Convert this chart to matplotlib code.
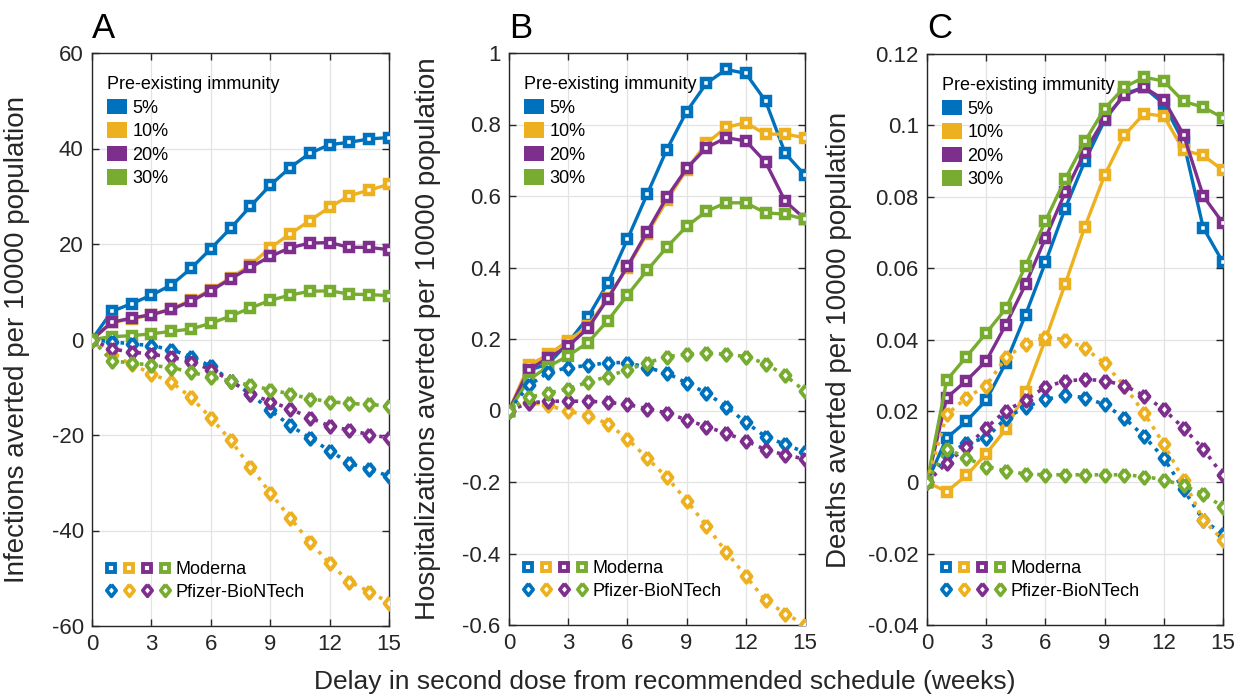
import numpy as np
import matplotlib as mpl
mpl.use('Agg')
import matplotlib.pyplot as plt
from matplotlib.lines import Line2D
from matplotlib.patches import Patch
from matplotlib.legend_handler import HandlerTuple
from matplotlib.ticker import FormatStrFormatter

plt.rc('font', family='Liberation Sans', size=14)
plt.rc('axes', unicode_minus=False)

########################## data ##########################
weeks = np.arange(0, 16)
immunity = ['5%', '10%', '20%', '30%']
colors = ['#0072BD', '#EDB120', '#7E2F8E', '#77AC30']

# A: infections averted per 10000
inf_moderna = [
    [0, 5.9, 7.5, 9.3, 11.4, 14.9, 19.0, 23.3, 27.9, 32.3, 36.0, 39.0, 40.8, 41.3, 42.0, 42.3],
    [0, 3.6, 4.3, 5.2, 6.4, 8.2, 10.4, 12.9, 15.6, 19.2, 22.1, 24.9, 27.7, 30.1, 31.3, 32.5],
    [0, 3.6, 4.5, 5.2, 6.3, 8.0, 10.2, 12.7, 15.1, 17.4, 19.2, 20.2, 20.3, 19.3, 19.3, 18.8],
    [0, 0.6, 0.8, 1.2, 1.7, 2.2, 3.4, 4.9, 6.6, 8.2, 9.3, 10.1, 10.2, 9.5, 9.4, 9.2],
]
inf_pfizer = [
    [0, -0.5, -0.9, -1.3, -2.1, -3.6, -5.6, -8.6, -11.4, -14.8, -18.0, -20.6, -23.3, -25.9, -27.2, -28.6],
    [0, -3.3, -5.1, -7.2, -8.9, -12.1, -16.4, -21.1, -26.7, -32.1, -37.3, -42.4, -46.9, -50.7, -52.8, -55.1],
    [0, -2.0, -2.6, -3.1, -3.7, -4.7, -6.3, -8.6, -11.4, -13.0, -14.5, -16.4, -18.1, -19.0, -19.9, -20.6],
    [0, -4.5, -4.9, -5.4, -5.9, -6.8, -7.9, -8.7, -9.6, -10.5, -11.4, -12.4, -13.0, -13.4, -13.6, -13.9],
]

# B: hospitalizations averted per 10000
hosp_moderna = [
    [0, 0.112, 0.131, 0.19, 0.261, 0.356, 0.479, 0.605, 0.730, 0.836, 0.915, 0.954, 0.943, 0.866, 0.719, 0.658],
    [0, 0.126, 0.157, 0.195, 0.235, 0.315, 0.400, 0.494, 0.588, 0.674, 0.747, 0.792, 0.805, 0.773, 0.773, 0.763],
    [0, 0.114, 0.148, 0.180, 0.230, 0.312, 0.403, 0.500, 0.597, 0.677, 0.735, 0.763, 0.754, 0.695, 0.585, 0.536],
    [0, 0.086, 0.123, 0.153, 0.190, 0.251, 0.323, 0.392, 0.457, 0.515, 0.557, 0.581, 0.581, 0.553, 0.549, 0.535],
]
hosp_pfizer = [
    [0, 0.07, 0.107, 0.120, 0.126, 0.134, 0.134, 0.120, 0.105, 0.077, 0.049, 0.011, -0.033, -0.073, -0.095, -0.117],
    [0, 0.023, 0.014, -0.002, -0.014, -0.037, -0.079, -0.133, -0.187, -0.252, -0.322, -0.395, -0.463, -0.531, -0.568, -0.600],
    [0, 0.021, 0.026, 0.026, 0.026, 0.023, 0.017, 0.005, -0.007, -0.026, -0.045, -0.064, -0.084, -0.110, -0.124, -0.136],
    [0, 0.037, 0.049, 0.061, 0.079, 0.095, 0.114, 0.133, 0.151, 0.157, 0.161, 0.157, 0.151, 0.131, 0.098, 0.054],
]

# C: deaths averted per 10000
death_moderna = [
    [0, 0.0124, 0.0171, 0.0230, 0.0335, 0.0470, 0.0616, 0.0767, 0.0900, 0.1014, 0.1088, 0.1107, 0.1060, 0.0953, 0.0713, 0.0616],
    [0, -0.0026, 0.0019, 0.0080, 0.0149, 0.0253, 0.0400, 0.0555, 0.0716, 0.0860, 0.0972, 0.1033, 0.1026, 0.0930, 0.0916, 0.0874],
    [0, 0.0237, 0.0285, 0.0340, 0.0442, 0.0555, 0.0684, 0.0812, 0.0926, 0.1019, 0.1084, 0.1107, 0.1072, 0.0974, 0.0802, 0.0726],
    [0, 0.0286, 0.0352, 0.0418, 0.0487, 0.0607, 0.0732, 0.0849, 0.0955, 0.1047, 0.1107, 0.1135, 0.1124, 0.1067, 0.1051, 0.1021],
]
death_pfizer = [
    [0, 0.0077, 0.0110, 0.0124, 0.0180, 0.0211, 0.0232, 0.0244, 0.0237, 0.0218, 0.0180, 0.0129, 0.0068, -0.0020, -0.0106, -0.0146],
    [0, 0.0190, 0.0237, 0.0270, 0.0350, 0.0387, 0.0406, 0.0400, 0.0376, 0.0333, 0.0270, 0.0194, 0.0107, 0.0007, -0.0106, -0.0162],
    [0, 0.0054, 0.0099, 0.0152, 0.0201, 0.0230, 0.0267, 0.0284, 0.0288, 0.0285, 0.0271, 0.0243, 0.0204, 0.0152, 0.0093, 0.0019],
    [0, 0.0094, 0.0068, 0.0044, 0.0032, 0.0023, 0.0021, 0.0021, 0.0021, 0.0021, 0.0021, 0.0016, 0.0007, -0.0009, -0.0033, -0.0069],
]

panels = [
    ('A', inf_moderna, inf_pfizer, 'Infections averted per 10000 population',
     (-60, 60), np.arange(-60, 61, 20), -0.21),
    ('B', hosp_moderna, hosp_pfizer, 'Hospitalizations averted per 10000 population',
     (-0.6, 1.0), np.round(np.arange(-0.6, 1.01, 0.2), 2), -0.23),
    ('C', death_moderna, death_pfizer, 'Deaths averted per 10000 population',
     (-0.04, 0.12), np.round(np.arange(-0.04, 0.121, 0.02), 2), -0.255),
]

W, H = 1241, 696
boxes = [(92, 53, 389, 626), (509, 53, 805, 625), (927, 54, 1223, 625)]

# slightly tall diamond like the MATLAB one
diamond = [(0, 1), (0.8, 0), (0, -1), (-0.8, 0), (0, 1)]

fig = plt.figure(figsize=(W / 100, H / 100), dpi=100)
axcol = '#262626'

for (label, mod, pfz, ylab, ylim, yticks, ylx), (x0, y0, x1, y1) in zip(panels, boxes):
    ax = fig.add_axes([x0 / W, 1 - y1 / H, (x1 - x0) / W, (y1 - y0) / H])
    for i in range(4):
        ax.plot(weeks, mod[i], '-', color=colors[i], lw=2.4, marker='s', ms=6.3,
                mfc='white', mew=3.2, zorder=3)
    for i in range(4):
        ax.plot(weeks, pfz[i], ':', color=colors[i], lw=2.6, marker=diamond, ms=9,
                mfc='white', mew=2.8, zorder=3)
    ax.set_xlim(0, 15)
    ax.set_ylim(*ylim)
    ax.set_xticks(np.arange(0, 16, 3))
    ax.set_yticks(yticks)
    ax.yaxis.set_major_formatter(FormatStrFormatter('%g'))
    ax.grid(True, color='#e3e3e3', lw=0.9)
    ax.set_axisbelow(True)
    ax.tick_params(direction='in', top=True, right=True, length=5, width=1,
                   colors=axcol, labelsize=16, pad=6)
    for s in ax.spines.values():
        s.set_color(axcol)
        s.set_linewidth(1.0)
    ax.set_ylabel(ylab, fontsize=20, color=axcol)
    ax.yaxis.set_label_coords(ylx, 0.5)
    fig.text(x0 / W, 1 - 38 / H, label, fontsize=25, ha='left', va='baseline')

    # immunity legend
    patches = [Patch(facecolor=c, edgecolor='none') for c in colors]
    leg1 = ax.legend(patches, immunity, title='Pre-existing immunity', loc='upper left',
                     frameon=False, fontsize=13, title_fontsize=13, handlelength=1.1,
                     handleheight=0.95, handletextpad=0.3, labelspacing=0.3,
                     borderaxespad=0.5, borderpad=0.8, bbox_to_anchor=(-0.028, 1.0))
    leg1._legend_box.align = 'left'
    ax.add_artist(leg1)

    # vaccine legend
    sq = tuple(Line2D([], [], ls='none', marker='s', ms=6, mfc='white', mec=c, mew=2.8)
               for c in colors)
    di = tuple(Line2D([], [], ls='none', marker=diamond, ms=8.5, mfc='white', mec=c, mew=2.6)
               for c in colors)
    ax.legend([sq, di], ['Moderna', 'Pfizer-BioNTech'], loc='lower left', frameon=False,
              fontsize=13, handler_map={tuple: HandlerTuple(ndivide=None, pad=0.35)},
              handlelength=3.6, handletextpad=0.3, labelspacing=0.3,
              borderaxespad=0.5, borderpad=0.9, bbox_to_anchor=(-0.04, 0.0))

fig.text(665 / W, 1 - 682 / H, 'Delay in second dose from recommended schedule (weeks)',
         fontsize=19, ha='center', va='center', color=axcol)

plt.savefig('out.png', dpi=100)
